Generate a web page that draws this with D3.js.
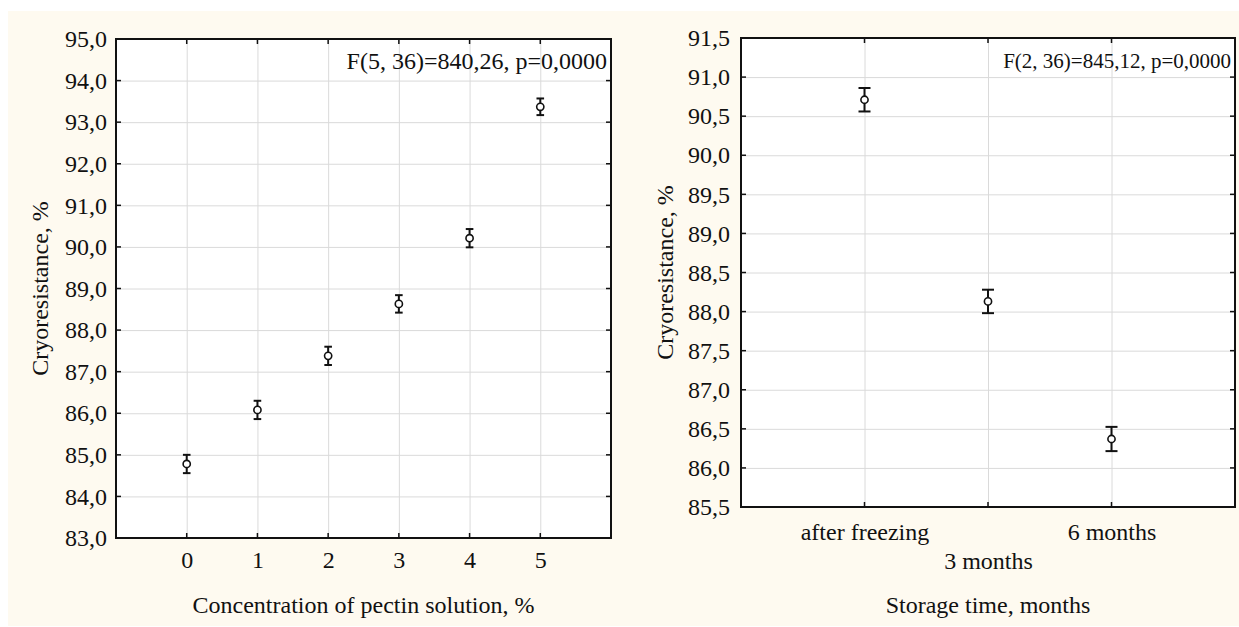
<!DOCTYPE html>
<html>
<head>
<meta charset="utf-8">
<script src="https://cdnjs.cloudflare.com/ajax/libs/d3/7.8.5/d3.min.js"></script>
<style>
    body { margin: 0; background: #fff; }
    svg text { font-family: "Liberation Serif", "Times New Roman", serif; fill: #111; }
    .grid line { stroke: #dadada; stroke-width: 1; }
    .grid path { display: none; }
    .axis path { display: none; }
    .axis line { display: none; }
</style>
</head>
<body>
<svg width="1239" height="627"></svg>
<script>
// left panel: concentration of pectin
let concCats = ["0", "1", "2", "3", "4", "5"];
let concMeans = [84.78, 86.08, 87.38, 88.63, 90.21, 93.37];
let concErr = [0.22, 0.22, 0.22, 0.21, 0.22, 0.2];
let concTicks = [83, 84, 85, 86, 87, 88, 89, 90, 91, 92, 93, 94, 95];

// right panel: storage time
let storageCats = ["after freezing", "3 months", "6 months"];
let storageMeans = [90.71, 88.13, 86.37];
let storageErr = [0.15, 0.15, 0.155];
let storageTicks = [85.5, 86, 86.5, 87, 87.5, 88, 88.5, 89, 89.5, 90, 90.5, 91, 91.5];

let svg = d3.select("svg");
let comma = v => d3.format(".1f")(v).replace(".", ",");

// cream background of the figure
svg.append("rect")
    .attr("x", 8).attr("y", 11)
    .attr("width", 1231).attr("height", 615)
    .attr("fill", "#fefaf0");

function panel(p) {
    let x = d3.scalePoint()
        .domain(p.cats)
        .range([p.left, p.right])
        .padding(1);

    let y = d3.scaleLinear()
        .domain(d3.extent(p.ticks))
        .range([p.bottom, p.top]);

    let g = svg.append("g");

    g.append("rect")
        .attr("x", p.left).attr("y", p.top)
        .attr("width", p.right - p.left).attr("height", p.bottom - p.top)
        .attr("fill", "#fff");

    // grid
    g.append("g")
        .classed("grid", true)
        .attr("transform", "translate(" + p.left + ",0)")
        .call(d3.axisLeft(y).tickValues(p.ticks).tickSize(-(p.right - p.left)).tickFormat(""));
    g.append("g")
        .classed("grid", true)
        .attr("transform", "translate(0," + p.bottom + ")")
        .call(d3.axisBottom(x).tickSize(-(p.bottom - p.top)).tickFormat(""));

    // tick labels
    g.append("g")
        .classed("axis", true)
        .attr("transform", "translate(" + p.left + ",0)")
        .call(d3.axisLeft(y).tickValues(p.ticks).tickFormat(comma).tickSize(0).tickPadding(p.yPad))
        .selectAll("text")
        .style("font-size", "24px");

    g.append("g")
        .classed("axis", true)
        .attr("transform", "translate(0," + p.bottom + ")")
        .call(d3.axisBottom(x).tickSize(0))
        .selectAll("text")
        .style("font-size", "24px")
        .attr("dy", null)
        .attr("y", (d, i) => p.stagger && i % 2 === 1 ? p.xLab + 29 : p.xLab);

    // inner tick marks
    let tk = 5;
    g.selectAll(".tky")
        .data(p.ticks)
        .enter().append("line")
        .attr("x1", p.left).attr("x2", p.left + tk)
        .attr("y1", d => y(d)).attr("y2", d => y(d))
        .attr("stroke", "#111").attr("stroke-width", 1.5);
    g.selectAll(".tkyr")
        .data(p.ticks)
        .enter().append("line")
        .attr("x1", p.right).attr("x2", p.right - tk)
        .attr("y1", d => y(d)).attr("y2", d => y(d))
        .attr("stroke", "#111").attr("stroke-width", 1.5);
    g.selectAll(".tkx")
        .data(p.cats)
        .enter().append("line")
        .attr("x1", d => x(d)).attr("x2", d => x(d))
        .attr("y1", p.bottom).attr("y2", p.bottom - tk)
        .attr("stroke", "#111").attr("stroke-width", 1.5);
    g.selectAll(".tkxt")
        .data(p.cats)
        .enter().append("line")
        .attr("x1", d => x(d)).attr("x2", d => x(d))
        .attr("y1", p.top).attr("y2", p.top + tk)
        .attr("stroke", "#111").attr("stroke-width", 1.5);

    // frame
    g.append("rect")
        .attr("x", p.left).attr("y", p.top)
        .attr("width", p.right - p.left).attr("height", p.bottom - p.top)
        .attr("fill", "none")
        .attr("stroke", "#111")
        .attr("stroke-width", 2);

    // error bars + means
    let pts = p.cats.map((c, i) => ({ cat: c, m: p.means[i], e: p.err[i] }));
    let cap = p.cap;
    let eb = g.selectAll(".eb")
        .data(pts)
        .enter().append("g");
    eb.append("line")
        .attr("x1", d => x(d.cat)).attr("x2", d => x(d.cat))
        .attr("y1", d => y(d.m + d.e)).attr("y2", d => y(d.m - d.e))
        .attr("stroke", "#111").attr("stroke-width", 2);
    eb.append("line")
        .attr("x1", d => x(d.cat) - cap).attr("x2", d => x(d.cat) + cap)
        .attr("y1", d => y(d.m + d.e)).attr("y2", d => y(d.m + d.e))
        .attr("stroke", "#111").attr("stroke-width", 2);
    eb.append("line")
        .attr("x1", d => x(d.cat) - cap).attr("x2", d => x(d.cat) + cap)
        .attr("y1", d => y(d.m - d.e)).attr("y2", d => y(d.m - d.e))
        .attr("stroke", "#111").attr("stroke-width", 2);
    eb.append("circle")
        .attr("cx", d => x(d.cat))
        .attr("cy", d => y(d.m))
        .attr("r", 3.6)
        .attr("fill", "#fff")
        .attr("stroke", "#111")
        .attr("stroke-width", 1.6);

    // stats text
    g.append("text")
        .attr("x", p.right - 4)
        .attr("y", p.top + 30)
        .attr("text-anchor", "end")
        .style("font-size", p.statSize + "px")
        .text(p.stat);

    // axis titles
    g.append("text")
        .attr("x", (p.left + p.right) / 2)
        .attr("y", 613)
        .attr("text-anchor", "middle")
        .style("font-size", "24px")
        .text(p.xTitle);

    g.append("text")
        .attr("transform", "translate(" + p.yTitleX + "," + ((p.top + p.bottom) / 2) + ") rotate(-90)")
        .attr("text-anchor", "middle")
        .style("font-size", "24px")
        .text("Cryoresistance, %");
}

panel({
    cats: concCats, means: concMeans, err: concErr, ticks: concTicks,
    left: 116, right: 611, top: 39, bottom: 538,
    yPad: 9, xLab: 30, stagger: false, cap: 3.8,
    stat: "F(5, 36)=840,26, p=0,0000", statSize: 24,
    xTitle: "Concentration of pectin solution, %", yTitleX: 48
});

panel({
    cats: storageCats, means: storageMeans, err: storageErr, ticks: storageTicks,
    left: 741, right: 1235, top: 38, bottom: 507,
    yPad: 11, xLab: 33, stagger: true, cap: 6,
    stat: "F(2, 36)=845,12, p=0,0000", statSize: 21,
    xTitle: "Storage time, months", yTitleX: 673
});
</script>
</body>
</html>
